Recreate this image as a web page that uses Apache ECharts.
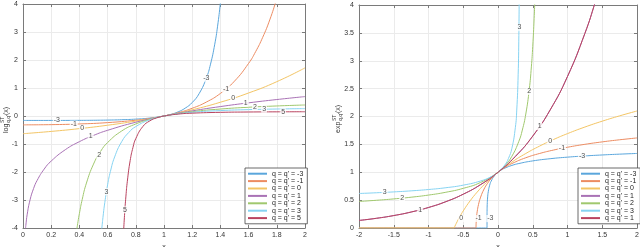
<!DOCTYPE html>
<html><head><meta charset="utf-8">
<script src="https://cdn.jsdelivr.net/npm/echarts@6/dist/echarts.min.js"></script>
<style>html,body{margin:0;padding:0;background:#fff}#c{width:640px;height:247px}</style>
</head><body><div id="c"></div>
<script>
// ---------- DATA ----------
const legendNames = ["q = q' = -3", "q = q' = -1", "q = q' = 0", "q = q' = 1", "q = q' = 2", "q = q' = 3", "q = q' = 5"];
const legendNamesRight = ["q = q' = -3", "q = q' = -1", "q = q' = 0", "q = q' = 1", "q = q' = 2", "q = q' = 3", "q = q' = 1 "];
const leftXTicks = [0, 2, 0.2];
const leftYTicks = [-4, 4, 1];
const rightXTicks = [-2, 2, 0.5];
const rightYTicks = [0, 4, 0.5];

// left panel: log^ST_{q,q'}(x)
const logQm3 = [[0,-0.1580],[0.2,-0.1579],[0.4,-0.1556],[0.5,-0.1521],[0.6,-0.1453],[0.7,-0.1331],[0.8,-0.1115],[0.9,-0.0728],[1.0,0],[1.05,0.0601],[1.1,0.1477],[1.15,0.2788],[1.2,0.4815],[1.25,0.8067],[1.3,1.3498],[1.33,1.8517],[1.36,2.5645],[1.38,3.2073],[1.4,4.0358],[1.41,4.5388]];
const logQm1 = [[0,-0.3161],[0.2,-0.3086],[0.4,-0.2841],[0.6,-0.2364],[0.8,-0.1512],[0.9,-0.0865],[1.0,0],[1.1,0.1168],[1.2,0.2764],[1.3,0.4969],[1.4,0.8058],[1.5,1.2452],[1.6,1.8794],[1.65,2.2995],[1.7,2.8097],[1.75,3.4328],[1.8,4.1967],[1.82,4.5496]];
const logQ0 = [[0,-0.6321],[0.2,-0.5507],[0.4,-0.4512],[0.6,-0.3297],[0.8,-0.1813],[1.0,0],[1.2,0.2214],[1.4,0.4918],[1.6,0.8221],[1.8,1.2255],[2.0,1.7183]];
const logQ1 = [[0.018,-4.0174],[0.02,-3.9120],[0.03,-3.5066],[0.05,-2.9957],[0.075,-2.5903],[0.1,-2.3026],[0.15,-1.8971],[0.2,-1.6094],[0.3,-1.2040],[0.4,-0.9163],[0.5,-0.6931],[0.6,-0.5108],[0.8,-0.2231],[1.0,0],[1.2,0.1823],[1.4,0.3365],[1.6,0.4700],[1.8,0.5878],[2.0,0.6931]];
const logQ2 = [[0.38,-4.1123],[0.39,-3.7784],[0.4,-3.4817],[0.42,-2.9785],[0.45,-2.3947],[0.5,-1.7183],[0.55,-1.2664],[0.6,-0.9477],[0.7,-0.5351],[0.8,-0.2840],[0.9,-0.1175],[1.0,0],[1.2,0.1535],[1.4,0.2485],[1.6,0.3127],[1.8,0.3588],[2.0,0.3935]];
const logQ3 = [[0.555,-4.2272],[0.56,-3.9622],[0.57,-3.4938],[0.58,-3.0950],[0.6,-2.4584],[0.62,-1.9803],[0.65,-1.4615],[0.7,-0.9158],[0.75,-0.5883],[0.8,-0.3776],[0.9,-0.1322],[1.0,0],[1.2,0.1317],[1.4,0.1936],[1.6,0.2282],[1.8,0.2496],[2.0,0.2638]];
const logQ5 = [[0.71,-4.4562],[0.72,-3.5495],[0.73,-2.8612],[0.74,-2.3323],[0.76,-1.5925],[0.78,-1.1207],[0.8,-0.8068],[0.85,-0.3746],[0.9,-0.1723],[0.95,-0.0640],[1.0,0],[1.1,0.0679],[1.2,0.1010],[1.4,0.1307],[1.6,0.1429],[1.8,0.1488],[2.0,0.1521]];

// right panel: exp^ST_{q,q'}(x)
const expQm3 = [[-2,0],[-0.158,0],[-0.1578,0.2234],[-0.157,0.3249],[-0.155,0.4243],[-0.15,0.5379],[-0.14,0.6505],[-0.12,0.7670],[-0.1,0.8363],[-0.05,0.9388],[0,1],[0.05,1.0428],[0.1,1.0752],[0.2,1.1225],[0.3,1.1564],[0.5,1.2036],[0.75,1.2429],[1.0,1.2710],[1.25,1.2926],[1.5,1.3101],[1.75,1.3247],[2.0,1.3372]];
const expQm1 = [[-2,0],[-0.316,0],[-0.3158,0.0375],[-0.315,0.0758],[-0.31,0.1801],[-0.3,0.2893],[-0.28,0.4231],[-0.25,0.5539],[-0.2,0.6994],[-0.15,0.8021],[-0.1,0.8814],[0,1],[0.1,1.0873],[0.2,1.1561],[0.4,1.2601],[0.6,1.3373],[0.8,1.3984],[1.0,1.4487],[1.25,1.5009],[1.5,1.5448],[1.75,1.5824],[2.0,1.6154]];
const expQ0 = [[-2,0],[-0.632,0],[-0.63,0.0057],[-0.62,0.0324],[-0.6,0.0837],[-0.55,0.2015],[-0.5,0.3069],[-0.4,0.4892],[-0.3,0.6433],[-0.2,0.7769],[-0.1,0.8946],[0,1],[0.2,1.1823],[0.4,1.3365],[0.6,1.4700],[0.8,1.5878],[1.0,1.6931],[1.25,1.8109],[1.5,1.9163],[1.75,2.0116],[2.0,2.0986]];
const expQ1 = [[-2,0.1353],[-1.75,0.1738],[-1.5,0.2231],[-1.25,0.2865],[-1,0.3679],[-0.75,0.4724],[-0.5,0.6065],[-0.25,0.7788],[0,1],[0.25,1.2840],[0.5,1.6487],[0.75,2.1170],[1.0,2.7183],[1.25,3.4903],[1.4,4.0552],[1.5,4.4817]];
const expQ2 = [[-2,0.4765],[-1.75,0.4971],[-1.5,0.5218],[-1.25,0.5522],[-1,0.5906],[-0.75,0.6412],[-0.5,0.7115],[-0.25,0.8176],[0,1],[0.1,1.1178],[0.2,1.2872],[0.3,1.5544],[0.35,1.7568],[0.4,2.0443],[0.45,2.4866],[0.48,2.8896],[0.5,3.2589],[0.52,3.7590],[0.53,4.0820],[0.54,4.4749]];
const expQ3 = [[-2,0.6190],[-1.75,0.6319],[-1.5,0.6474],[-1.25,0.6663],[-1,0.6903],[-0.75,0.7224],[-0.5,0.7685],[-0.25,0.8435],[-0.1,0.9197],[0,1],[0.1,1.1346],[0.15,1.2468],[0.2,1.4298],[0.25,1.8053],[0.27,2.1154],[0.29,2.7472],[0.3,3.4563],[0.305,4.1384]];

// inline curve labels [x, y, text]
const leftLabels = [[1.30,1.35,'-3'],[0.24,-0.158,'-3'],[1.44,0.96,'-1'],[0.36,-0.29,'-1'],[1.49,0.63,'0'],[0.42,-0.44,'0'],[1.58,0.457,'1'],[0.48,-0.734,'1'],[1.645,0.324,'2'],[0.541,-1.40,'2'],[1.71,0.243,'3'],[0.592,-2.7,'3'],[1.845,0.15,'5'],[0.723,-3.35,'5']];
const rightLabels = [[0.31,3.6,'3'],[0.45,2.45,'2'],[0.60,1.82,'1'],[0.75,1.56,'0'],[0.92,1.43,'-1'],[1.21,1.29,'-3'],[-1.63,0.64,'3'],[-1.38,0.535,'2'],[-1.12,0.32,'1'],[-0.53,0.17,'0'],[-0.28,0.17,'-1'],[-0.11,0.17,'-3']];

// ---------- STYLE ----------
const FONT = '"Liberation Sans", Arial, sans-serif';
const colors = ['#5aa6dc', '#ec8c62', '#f3c565', '#a972b5', '#a0c86e', '#86d3f2', '#b9435f'];
const AX = '#7a7a7a';

function mkAxes(gi, t, kind) {
  const base = {
    gridIndex: gi, type: 'value', min: t[0], max: t[1], interval: t[2],
    axisLine: { show: true, onZero: false, lineStyle: { color: AX, width: 1 } },
    axisTick: { show: true, inside: true, length: 3, lineStyle: { color: AX } },
  };
  const prim = Object.assign({}, base, {
    position: kind === 'x' ? 'bottom' : 'left',
    splitLine: { show: true, lineStyle: { color: '#ebebeb', width: 1 } },
    axisLabel: { fontSize: 7, color: '#333', margin: kind === 'x' ? 4 : 5, fontFamily: FONT },
  });
  if (kind === 'x') Object.assign(prim, { name: 'x', nameLocation: 'middle', nameGap: 12, nameTextStyle: { fontSize: 7, color: '#333', fontFamily: FONT } });
  const sec = Object.assign({}, base, {
    position: kind === 'x' ? 'top' : 'right',
    splitLine: { show: false }, axisLabel: { show: false },
  });
  return [prim, sec];
}

const xAxis = [...mkAxes(0, leftXTicks, 'x'), ...mkAxes(1, rightXTicks, 'x')];
const yAxis = [...mkAxes(0, leftYTicks, 'y'), ...mkAxes(1, rightYTicks, 'y')];

function lineSeries(name, data, color, xi, yi) {
  return { type: 'line', name, data, xAxisIndex: xi, yAxisIndex: yi, symbol: 'none', showSymbol: false,
    smooth: 0.5, clip: true, lineStyle: { color, width: 1 }, itemStyle: { color },
    emphasis: { disabled: true }, animation: false };
}
function labelSeries(labels, xi, yi) {
  return { type: 'scatter', xAxisIndex: xi, yAxisIndex: yi, symbol: 'circle', symbolSize: 1, silent: true, z: 5,
    itemStyle: { color: 'rgba(0,0,0,0)' }, animation: false,
    data: labels.map(l => ({ value: [l[0], l[1]], label: { formatter: l[2] } })),
    label: { show: true, position: 'inside', fontSize: 7, color: '#222', backgroundColor: '#fff', padding: [0, 1], fontFamily: FONT } };
}

const leftData = [logQm3, logQm1, logQ0, logQ1, logQ2, logQ3, logQ5];
const rightData = [expQm3, expQm1, expQ0, expQ1, expQ2, expQ3, expQ1];
const series = [];
leftData.forEach((d, i) => series.push(lineSeries(legendNames[i], d, colors[i], 0, 0)));
rightData.forEach((d, i) => series.push(lineSeries(legendNamesRight[i], d, colors[i], 2, 2)));
series.push(labelSeries(leftLabels, 0, 0));
series.push(labelSeries(rightLabels, 2, 2));

function legendCfg(left, names) {
  return { data: names, orient: 'vertical', left, top: 168, icon: 'rect', itemWidth: 19, itemHeight: 2, itemGap: 0,
    padding: [2, 4, 2, 3], backgroundColor: '#fff', borderColor: '#444', borderWidth: 0.8, selectedMode: false,
    textStyle: { fontSize: 7, color: '#222', fontFamily: FONT, lineHeight: 7.4 } };
}

function yName(x, y, main, mainW) {
  const st = { fontSize: 7, fill: '#333', fontFamily: FONT };
  const sm = { fontSize: 5, fill: '#333', fontFamily: FONT };
  return { type: 'group', x, y, rotation: Math.PI / 2, silent: true, children: [
    { type: 'text', x: -15, y: 0, style: Object.assign({ text: main, verticalAlign: 'middle', align: 'left' }, st) },
    { type: 'text', x: -15 + mainW + 0.5, y: -3, style: Object.assign({ text: 'ST', verticalAlign: 'middle', align: 'left' }, sm) },
    { type: 'text', x: -15 + mainW + 0.5, y: 3, style: Object.assign({ text: "q,q'", verticalAlign: 'middle', align: 'left' }, sm) },
    { type: 'text', x: -15 + mainW + 8.5, y: 0, style: Object.assign({ text: '(x)', verticalAlign: 'middle', align: 'left' }, st) },
  ]};
}

const option = {
  animation: false,
  backgroundColor: '#fff',
  textStyle: { fontFamily: FONT },
  grid: [
    { left: 23, right: 335, top: 4, bottom: 19, containLabel: false, outerBoundsMode: 'none' },
    { left: 359, right: 3, top: 5, bottom: 19, containLabel: false, outerBoundsMode: 'none' },
  ],
  xAxis, yAxis, series,
  legend: [legendCfg(245, legendNames), legendCfg(578, legendNamesRight)],
  graphic: [yName(6, 118, 'log', 9.5), yName(338, 118, 'exp', 11.5)],
};

const chart = echarts.init(document.getElementById('c'), null, { renderer: 'canvas' });
chart.setOption(option);
</script></body></html>
